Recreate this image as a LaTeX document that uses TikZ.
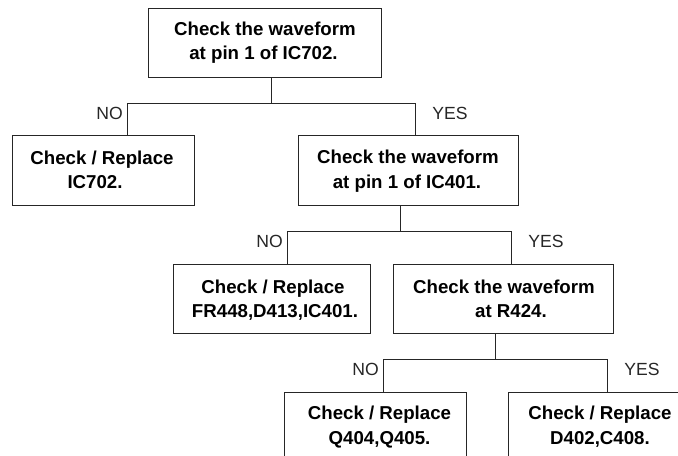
\documentclass[tikz,border=0pt]{standalone}
\usepackage{fontspec}
\setmainfont{Liberation Sans}
\tikzset{
  px/.style={x=0.75pt,y=-0.75pt},
  boxn/.style={draw=black!85,line width=0.7pt,anchor=north west,inner sep=0pt},
  txt/.style={anchor=base,inner sep=0pt,font=\fontsize{14}{18.75}\selectfont\bfseries},
  lbl/.style={font=\fontsize{13.2}{15}\selectfont,inner sep=0pt,text=black!85},
  wire/.style={draw=black!85,line width=0.7pt}
}
\newcommand{\bx}[5]{\node[boxn,minimum width=#4*0.75pt,minimum height=#5*0.75pt] (#1) at (#2,#3) {};}
\newcommand{\tl}[4]{\node[txt] (#1) at (#2,#3) {#4};}
\begin{document}
\begin{tikzpicture}[px]
\useasboundingbox (0,0) rectangle (678,456);
\bx{a}{148}{8}{233}{69}
\bx{b}{12}{135.5}{181.5}{69.5}
\bx{c}{297.5}{135.5}{220}{69.5}
\bx{d}{173}{263.5}{197}{69.5}
\bx{e}{393}{263.5}{220}{69.5}
\bx{f}{284}{391.5}{182}{70}
\bx{g}{508}{391.5}{180}{70}
\tl{a1}{265}{35.5}{Check the waveform}
\tl{a2}{263.5}{60}{at pin 1 of IC702.}
\tl{b1}{102}{165}{Check / Replace}
\tl{b2}{95}{189}{IC702.}
\tl{c1}{408}{164}{Check the waveform}
\tl{c2}{407}{188.5}{at pin 1 of IC401.}
\tl{d1}{273}{293}{Check / Replace}
\tl{d2}{275}{317.5}{FR448,D413,IC401.}
\tl{e1}{504}{293}{Check the waveform}
\tl{e2}{511}{317.5}{at R424.}
\tl{f1}{379.5}{419}{Check / Replace}
\tl{f2}{379.5}{444}{Q404,Q405.}
\tl{g1}{600}{419}{Check / Replace}
\tl{g2}{600}{444}{D402,C408.}
\coordinate (j1) at (271.5,103);
\coordinate (j2) at (400,231.5);
\coordinate (j3) at (495.5,359.5);
\coordinate (l1) at (127.5,103);
\coordinate (r1) at (415.5,103);
\coordinate (l2) at (287.5,231.5);
\coordinate (r2) at (511.5,231.5);
\coordinate (l3) at (383.5,359.5);
\coordinate (r3) at (607.5,359.5);
\draw[wire] (l1|-b.north) -- (l1) -- (r1) -- (r1|-c.north);
\draw[wire] (j1|-a.south) -- (j1);
\draw[wire] (l2|-d.north) -- (l2) -- (r2) -- (r2|-e.north);
\draw[wire] (j2|-c.south) -- (j2);
\draw[wire] (l3|-f.north) -- (l3) -- (r3) -- (r3|-g.north);
\draw[wire] (j3|-e.south) -- (j3);
\node[lbl] (n1) at (109.5,113) {NO};
\node[lbl] (y1) at (450,113) {YES};
\node[lbl] (n2) at (269.5,241) {NO};
\node[lbl] (y2) at (546,241) {YES};
\node[lbl] (n3) at (365.5,369) {NO};
\node[lbl] (y3) at (642,369) {YES};
\end{tikzpicture}
\end{document}
